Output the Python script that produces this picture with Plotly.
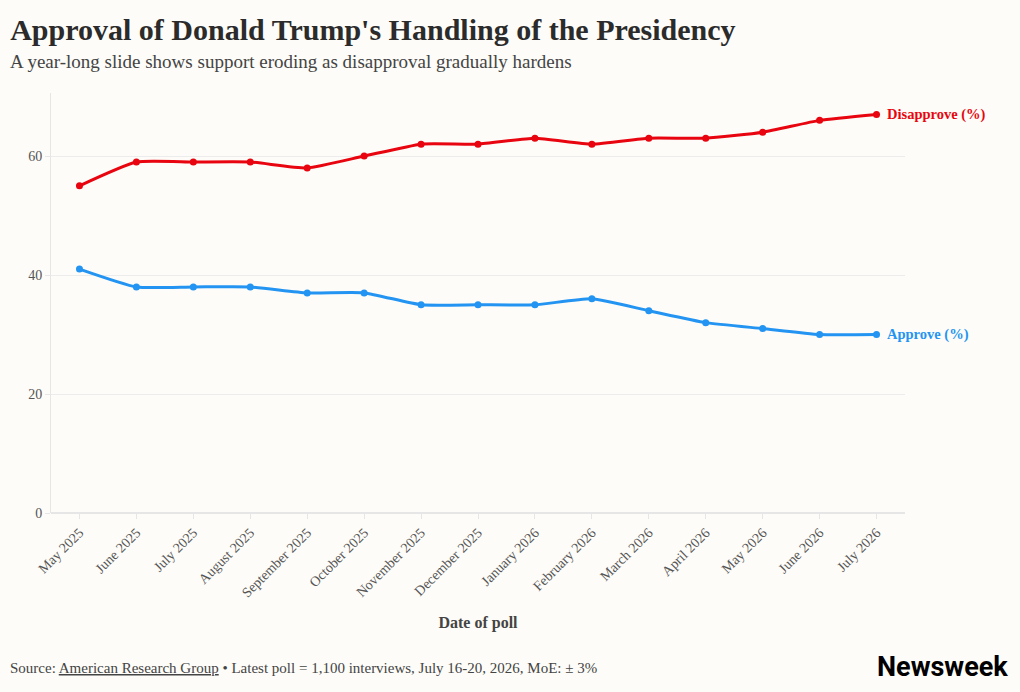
import plotly.graph_objects as go

months = ["May 2025", "June 2025", "July 2025", "August 2025", "September 2025",
          "October 2025", "November 2025", "December 2025", "January 2026",
          "February 2026", "March 2026", "April 2026", "May 2026", "June 2026", "July 2026"]
disapprove = [55, 59, 59, 59, 58, 60, 62, 62, 63, 62, 63, 63, 64, 66, 67]
approve = [41, 38, 38, 38, 37, 37, 35, 35, 35, 36, 34, 32, 31, 30, 30]
y_ticks = [0, 20, 40, 60]

RED = "#e8050f"
BLUE = "#2394f2"
FONT = "Liberation Serif, DejaVu Serif, serif"
BG = "#fdfcf8"

fig = go.Figure()
fig.add_trace(go.Scatter(x=months, y=disapprove, name="Disapprove (%)", mode="lines+markers",
                         line=dict(color=RED, width=3, shape="spline", smoothing=0.5),
                         marker=dict(size=7, color=RED)))
fig.add_trace(go.Scatter(x=months, y=approve, name="Approve (%)", mode="lines+markers",
                         line=dict(color=BLUE, width=3, shape="spline", smoothing=0.5),
                         marker=dict(size=7, color=BLUE)))

for name, vals, col in [("Disapprove (%)", disapprove, RED), ("Approve (%)", approve, BLUE)]:
    fig.add_annotation(x=months[-1], y=vals[-1], text="<b>" + name + "</b>", showarrow=False,
                       xanchor="left", xshift=8, font=dict(family=FONT, size=14.5, color=col))

fig.update_layout(
    width=1020, height=692, paper_bgcolor=BG, plot_bgcolor=BG,
    margin=dict(l=51, r=115, t=93, b=179),
    showlegend=False,
    font=dict(family=FONT, color="#444"),
    title=dict(text="<b>Approval of Donald Trump's Handling of the Presidency</b>",
               x=0.01, xanchor="left", y=0.957, yanchor="middle",
               font=dict(family=FONT, size=30, color="#2b2b2b")),
    xaxis=dict(type="category", range=[-0.5, 14.5], tickangle=-45, showgrid=False,
               ticks="outside", ticklen=5, tickcolor="#e6e6e6",
               tickfont=dict(family=FONT, size=14, color="#555"),
               showline=False, zeroline=False,
               title=dict(text="<b>Date of poll</b>", font=dict(family=FONT, size=16, color="#444"), standoff=17)),
    yaxis=dict(range=[0, 70.6], tickvals=y_ticks, showgrid=True, gridcolor="#ececec",
               ticks="outside", ticklen=5, tickcolor="#e6e6e6",
               showline=True, linecolor="#e6e6e6", linewidth=1, zeroline=True, zerolinecolor="#e6e6e6",
               tickfont=dict(family=FONT, size=14, color="#555")),
)

fig.add_annotation(xref="paper", yref="paper", x=-0.05, y=1.074, xanchor="left", yanchor="middle",
                   text="A year-long slide shows support eroding as disapproval gradually hardens",
                   showarrow=False, font=dict(family=FONT, size=19, color="#444"))
fig.add_annotation(xref="paper", yref="paper", x=-0.05, y=0, xanchor="left", yanchor="middle",
                   yshift=-155,
                   text="Source: <u>American Research Group</u> • Latest poll = 1,100 interviews, July 16-20, 2026, MoE: ± 3%",
                   showarrow=False, font=dict(family=FONT, size=15, color="#444"))
fig.add_annotation(xref="paper", yref="paper", x=1.123, y=0, xanchor="right", yanchor="middle",
                   yshift=-154, text="<b>Newsweek</b>", showarrow=False,
                   font=dict(family="Roboto, Inter, sans-serif", size=27, color="#000"))

fig.write_html("out.html")
